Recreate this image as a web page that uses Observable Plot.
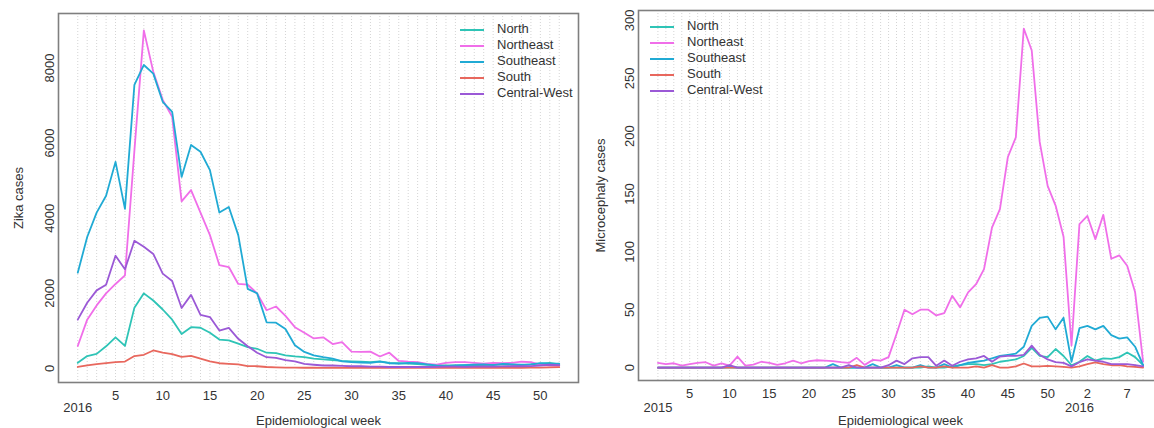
<!DOCTYPE html>
<html><head><meta charset="utf-8">
<script src="https://cdn.jsdelivr.net/npm/d3@7"></script>
<script src="https://cdn.jsdelivr.net/npm/@observablehq/plot@0.6"></script>
<style>
html,body{margin:0;padding:0;overflow:hidden;background:#fff;width:1154px;height:428px}
#wrap{position:relative;width:1154px;height:428px;overflow:hidden}
.panel{position:absolute;top:0}
.legend{position:absolute;font:13px "Liberation Sans",Arial,sans-serif;color:#333}
.legend .row{height:16px;line-height:16px;white-space:nowrap}
.legend .sw{display:inline-block;width:24px;height:2px;vertical-align:middle;margin-right:13px}
</style></head>
<body><div id="wrap"></div>
<script>
const regions = ["North","Northeast","Southeast","South","Central-West"];
const colors = ["#2ec4b6","#f06ee9","#20aad4","#e8675d","#9b59d6"];

// ---- Zika, 2016 epidemiological weeks 1..52
const zikaWeeks = d3.range(1, 53);
const zikaNorth = [150,330,390,590,830,600,1620,2000,1810,1570,1300,920,1100,1085,950,770,750,660,570,525,420,410,350,320,300,260,240,220,200,190,180,170,190,150,140,130,120,100,90,80,80,90,100,90,100,110,100,90,110,130,150,110];
const zikaNortheast = [600,1300,1680,2000,2250,2480,5800,9000,7900,7150,6700,4450,4750,4150,3550,2750,2700,2250,2230,2000,1550,1650,1400,1100,950,800,830,650,700,450,440,450,320,420,200,180,170,120,100,150,170,170,150,130,150,140,150,180,170,100,80,70];
const zikaSoutheast = [2550,3500,4150,4600,5500,4250,7550,8080,7850,7100,6830,5100,5950,5770,5280,4150,4300,3550,2120,2000,1230,1220,1050,620,440,350,300,260,190,170,160,150,180,140,130,150,140,110,80,60,80,90,100,110,90,120,110,100,110,140,130,130];
const zikaSouth = [40,80,115,140,170,185,330,365,480,420,380,310,335,260,190,140,125,110,65,60,40,30,25,25,20,22,18,20,15,20,22,18,20,16,20,18,15,20,18,15,20,22,18,20,25,20,18,20,22,25,30,35];
const zikaCentralWest = [1300,1750,2080,2230,3000,2640,3400,3240,3050,2525,2330,1610,1960,1430,1370,1010,1080,790,590,420,300,280,220,190,125,100,80,80,70,60,60,50,50,40,40,45,40,40,45,50,50,45,50,55,50,55,60,60,65,80,100,90];
const zikaXTicks = [5,10,15,20,25,30,35,40,45,50];
const zikaYTicks = [0,2000,4000,6000,8000];
const zikaYearTicks = [1];
const zikaYearLabels = ["2016"];

// ---- Microcephaly, 2015 weeks 1..53 then 2016 weeks 1..9 (index 1..62)
const microIndex = d3.range(1, 63);
const microNorth = [0,0,0,0,0,0,0,0,0,0,0,0,0,0,0,0,0,0,0,0,0,0,0,0,0,0,0,0,0,0,0,0,0,0,1,0,0,1,2,3,3,2,3,5,6,7,10,17,10,9,16,10,2,5,10,6,8,7.5,9,13,9,2];
const microNortheast = [4,3,3.7,1.7,3,4,4.6,1.7,3.7,1.7,9.5,1.7,2.6,5,4,2.3,3.7,6,3.7,5.5,6.3,6,5.5,4.6,4,8.4,2.3,6.6,6,9,29,50,46,50,50,45,47,62,52,65,72,85,121,137,182,199,293,274,195,157,140,113,19,124,131,111,132,94,97,88,65,5];
const microSoutheast = [0,0,0,0,0,0,0,0,0,0.5,0,0,0,0,0,0,0,0,0,0,0,0,3,0,0,0,0,3,0,0,2,0,0,2,0,0,3,0,2,4,5,6,8,10,11,12,18,36,43,44,33,43,5,34,36,33,36,28,25,26,18,2];
const microSouth = [0,0,0,0,0,0,0,0,0,0,0,0,0,0,0,0,0,0,0,0,0,0,0,0,0,2,0,0,0,0,0,0,0,1,0,0,1,0,0,0,1,0,2,0,0,1,3.5,1,1,1.5,1,0.5,0,1,3,4.5,3,2,2,1,0.5,0];
const microCentralWest = [0,0,0,0,0,0,0,0,0,2,0,0,0,0,0,0,0,0,0,0,0,0,0,0,2,0,0,0,0,2,6,3,8,9,9,1.5,6,1.5,5,7,8,10,5,9.5,10,10,11,19,11,7,4.6,4,1,4.6,7,6,5,3,3,3,2,1];
const microXTicks = [5,10,15,20,25,30,35,40,45,50,55,60];
const microYTicks = [0,50,100,150,200,250,300];
const microYearTicks = [1,54];
const microYearLabels = ["2015","2016"];

const font = "Liberation Sans, Arial, Helvetica, sans-serif";

function toRows(xs, seriesList) {
  const rows = [];
  seriesList.forEach((vals, k) => xs.forEach((x, i) => rows.push({x, value: vals[i], region: regions[k]})));
  return rows;
}

function makePlot(cfg) {
  const rows = toRows(cfg.xs, cfg.series);
  return Plot.plot({
    width: cfg.width, height: 428,
    marginLeft: 58, marginRight: cfg.marginRight, marginTop: cfg.marginTop, marginBottom: 428 - cfg.bottom,
    style: {fontFamily: font, fontSize: "13px", color: "#333", background: "transparent", overflow: "visible"},
    x: {domain: cfg.xDomain},
    y: {domain: cfg.yDomain},
    color: {domain: regions, range: colors},
    marks: [
      Plot.ruleX(cfg.xs, {stroke: "#d4d4d4", strokeDasharray: "1,2", strokeWidth: 1}),
      Plot.lineY(rows, {x: "x", y: "value", z: "region", stroke: "region", strokeWidth: 1.8, strokeLinejoin: "round"}),
      Plot.frame({stroke: "#7f7f7f", strokeWidth: 1.6}),
      Plot.axisX({ticks: cfg.xTicks, tickSize: 0, tickPadding: cfg.xPad, tickFormat: cfg.xFormat, fontSize: 13,
        label: "Epidemiological week", labelAnchor: "center", labelArrow: "none", labelOffset: 424 - cfg.bottom}),
      Plot.axisX({ticks: cfg.yearTicks, tickSize: 0, tickPadding: cfg.yearPad, fontSize: 13,
        tickFormat: d => cfg.yearLabels[cfg.yearTicks.indexOf(d)], label: null}),
      Plot.axisY({ticks: cfg.yTicks, tickSize: 0, tickRotate: -90, tickPadding: 5, fontSize: 13,
        tickFormat: d => String(d),
        label: cfg.yLabel, labelAnchor: "center", labelArrow: "none", labelOffset: cfg.yLabelOffset})
    ]
  });
}

function legend(left, top) {
  const div = document.createElement("div");
  div.className = "legend";
  div.style.left = left + "px"; div.style.top = top + "px";
  regions.forEach((r, i) => {
    const row = document.createElement("div"); row.className = "row";
    const sw = document.createElement("span"); sw.className = "sw"; sw.style.background = colors[i];
    row.appendChild(sw); row.appendChild(document.createTextNode(r));
    div.appendChild(row);
  });
  return div;
}

const wrap = document.getElementById("wrap");

const left = makePlot({
  xs: zikaWeeks,
  series: [zikaNorth, zikaNortheast, zikaSoutheast, zikaSouth, zikaCentralWest],
  width: 580, marginRight: 2, marginTop: 13, bottom: 382,
  xDomain: [1 - 0.04 * 51, 52 + 0.04 * 51], yDomain: [-373, 9450],
  xTicks: zikaXTicks, xFormat: d => String(d), xPad: 8,
  yearTicks: zikaYearTicks, yearLabels: zikaYearLabels, yearPad: 20,
  yTicks: zikaYTicks, yLabel: "Zika cases", yLabelOffset: 45
});
left.classList.add("panel"); left.style.left = "0px";
wrap.appendChild(left);

const right = makePlot({
  xs: microIndex,
  series: [microNorth, microNortheast, microSoutheast, microSouth, microCentralWest],
  width: 584, marginRight: 2, marginTop: 10, bottom: 380,
  xDomain: [1 - 0.04 * 61, 62 + 0.04 * 61], yDomain: [-11.2, 308.6],
  xTicks: microXTicks, xFormat: d => String(d > 53 ? d - 53 : d), xPad: 8,
  yearTicks: microYearTicks, yearLabels: microYearLabels, yearPad: 22,
  yTicks: microYTicks, yLabel: "Microcephaly cases", yLabelOffset: 43
});
right.classList.add("panel"); right.style.left = "580px";
wrap.appendChild(right);

wrap.appendChild(legend(460, 21));
wrap.appendChild(legend(650, 18));
</script>
</body></html>
